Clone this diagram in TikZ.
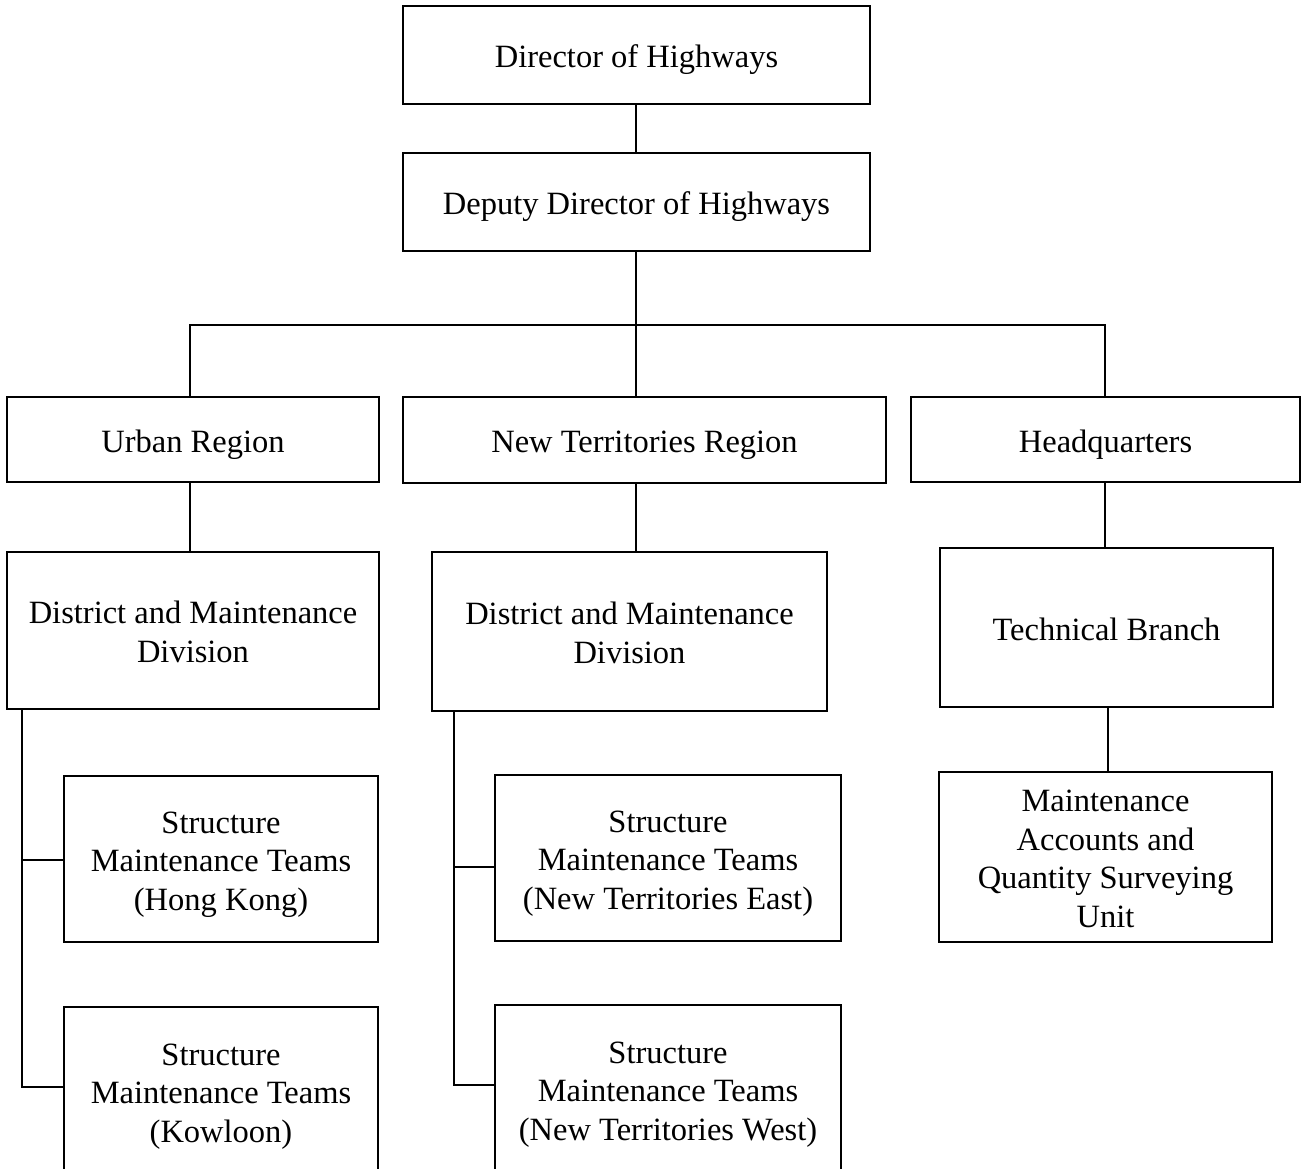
\documentclass[tikz,border=0pt]{standalone}
\usepackage{fontspec}
\setmainfont{Liberation Serif}
\newcommand\topstrut{\rule{0pt}{40pt}}
\begin{document}
\begin{tikzpicture}[x=1pt,y=-1pt,
  box/.style={draw=black,line width=2pt,inner sep=0pt,align=center,
    font=\fontsize{32.5}{38.5}\selectfont,
    execute at begin node={\topstrut},
    execute at end node={\rule[-15pt]{0pt}{15pt}}},
  conn/.style={draw=black,line width=1.5pt}]
\useasboundingbox (0,0) rectangle (1304,1169);
\clip (0,0) rectangle (1304,1169);
% row 1-2
\node[box,minimum width=467pt,minimum height=98pt] (dir) at (636.5,55) {Director of Highways};
\node[box,minimum width=467pt,minimum height=98pt] (dep) at (636.5,202) {Deputy Director of Highways};
% regions
\node[box,minimum width=372pt,minimum height=85pt] (ur) at (193,439.5) {Urban Region};
\node[box,minimum width=483pt,minimum height=86pt] (ntr) at (644.5,440) {New Territories Region};
\node[box,minimum width=389pt,minimum height=85pt] (hq) at (1105.5,439.5) {Headquarters};
% divisions
\node[box,minimum width=372pt,minimum height=157pt] (udmd) at (193,630.5) {\topstrut District and Maintenance\\Division};
\node[box,minimum width=395pt,minimum height=159pt] (ndmd) at (629.5,631.5) {\topstrut District and Maintenance\\Division};
\node[box,minimum width=333pt,minimum height=159pt] (tb) at (1106.5,627.5) {Technical Branch};
% teams
\node[box,minimum width=314pt,minimum height=166pt] (hk) at (221,859) {\topstrut Structure\\Maintenance Teams\\(Hong Kong)};
\node[box,minimum width=314pt,minimum height=168pt] (kl) at (221,1091) {\topstrut Structure\\Maintenance Teams\\(Kowloon)};
\node[box,minimum width=346pt,minimum height=166pt] (nte) at (668,858) {\topstrut Structure\\Maintenance Teams\\(New Territories East)};
\node[box,minimum width=346pt,minimum height=168pt] (ntw) at (668,1089) {\topstrut Structure\\Maintenance Teams\\(New Territories West)};
\node[box,minimum width=333pt,minimum height=168pt,
  execute at end node={\rule[-7pt]{0pt}{7pt}}] (maqs) at (1105.5,857) {\topstrut Maintenance\\Accounts and\\Quantity Surveying\\Unit};
% connector coordinates
\coordinate (trunk) at (636,325);
\coordinate (barL) at (190,325);
\coordinate (barR) at (1105,325);
\coordinate (uL) at (22,0);
\coordinate (nL) at (454,0);
% connectors
\draw[conn] (dir.south -| trunk) -- (dep.north -| trunk);
\draw[conn] (dep.south -| trunk) -- (ntr.north -| trunk);
\draw[conn] (ur.north -| barL) -- (barL) -- (barR) -- (hq.north -| barR);
\draw[conn] (ur.south -| barL) -- (udmd.north -| barL);
\draw[conn] (ntr.south -| trunk) -- (ndmd.north -| trunk);
\draw[conn] (hq.south -| barR) -- (tb.north -| barR);
\draw[conn] (tb.south -| 1108,0) -- (maqs.north -| 1108,0);
% urban team branch
\draw[conn] (udmd.south -| uL) -- (uL |- 0,1087) -- (kl.west |- 0,1087);
\draw[conn] (uL |- 0,860) -- (hk.west |- 0,860);
% NT team branch
\draw[conn] (ndmd.south -| nL) -- (nL |- 0,1085) -- (ntw.west |- 0,1085);
\draw[conn] (nL |- 0,867) -- (nte.west |- 0,867);
\end{tikzpicture}
\end{document}
